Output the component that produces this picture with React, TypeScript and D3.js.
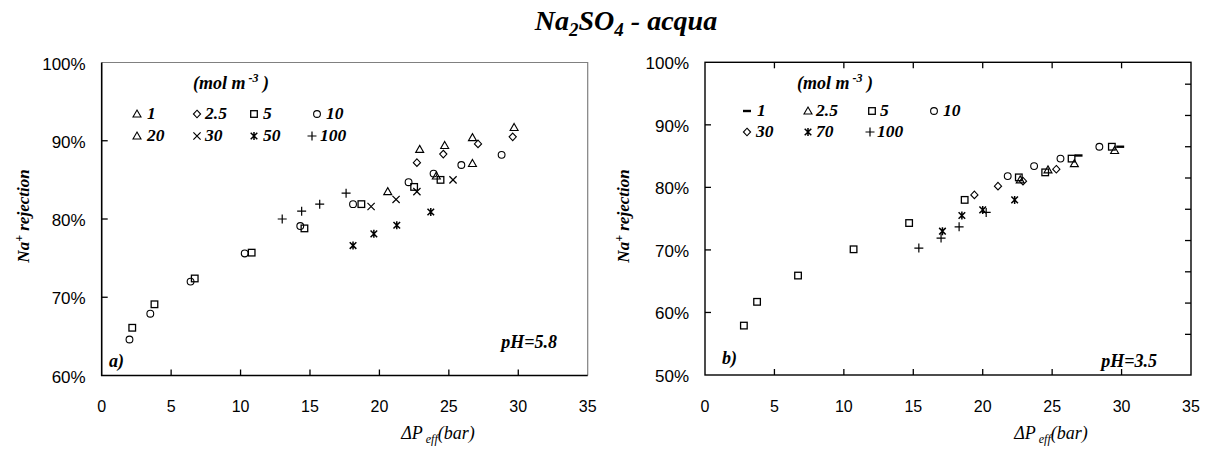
import React from "react";
import * as d3 from "d3";

// ---- data: (ΔP_eff in bar, Na+ rejection as fraction) ----
// Panel a) pH 5.8
const A_C1: [number, number][] = [[22.9, 0.889], [24.7, 0.894], [26.7, 0.904], [29.7, 0.917]];
const A_C2_5: [number, number][] = [[22.7, 0.872], [24.6, 0.883], [27.1, 0.896], [29.6, 0.905]];
const A_C5: [number, number][] = [[2.2, 0.661], [3.8, 0.691], [6.7, 0.724], [10.8, 0.757], [14.6, 0.788], [18.7, 0.819], [22.5, 0.841], [24.4, 0.85]];
const A_C10: [number, number][] = [[2.0, 0.646], [3.5, 0.679], [6.4, 0.72], [10.3, 0.756], [14.3, 0.791], [18.1, 0.819], [22.1, 0.847], [23.9, 0.858], [25.9, 0.869], [28.8, 0.882]];
const A_C20: [number, number][] = [[20.6, 0.835], [24.1, 0.855], [26.7, 0.871]];
const A_C30: [number, number][] = [[19.4, 0.816], [21.2, 0.825], [22.7, 0.835], [25.3, 0.85]];
const A_C50: [number, number][] = [[18.1, 0.766], [19.6, 0.781], [21.25, 0.792], [23.7, 0.809]];
const A_C100: [number, number][] = [[13.0, 0.8], [14.4, 0.81], [15.7, 0.819], [17.6, 0.833]];

// Panel b) pH 3.5
const B_C1: [number, number][] = [[29.9, 0.865], [26.9, 0.851]];
const B_C2_5: [number, number][] = [[22.7, 0.812], [24.7, 0.828], [26.6, 0.838], [29.5, 0.859]];
const B_C5: [number, number][] = [[2.8, 0.579], [3.75, 0.617], [6.7, 0.659], [10.7, 0.701], [14.7, 0.743], [18.7, 0.78], [22.6, 0.816], [24.5, 0.824], [26.4, 0.846], [29.3, 0.865]];
const B_C10: [number, number][] = [[21.8, 0.818], [23.7, 0.834], [25.6, 0.846], [28.4, 0.865]];
const B_C30: [number, number][] = [[19.4, 0.788], [21.1, 0.802], [22.9, 0.81], [25.3, 0.829]];
const B_C70: [number, number][] = [[17.1, 0.73], [18.5, 0.755], [20.0, 0.764], [22.3, 0.78]];
const B_C100: [number, number][] = [[15.4, 0.703], [17.0, 0.719], [18.3, 0.737], [20.25, 0.76]];

const X_TICKS = [0, 5, 10, 15, 20, 25, 30, 35];
const A_Y_TICKS = [0.6, 0.7, 0.8, 0.9, 1.0];
const B_Y_TICKS = [0.5, 0.6, 0.7, 0.8, 0.9, 1.0];
const B_RIGHT_TICKS = [0, 1, 2, 3, 4, 5, 6, 7, 8];

type Marker = "triangle" | "diamond" | "square" | "circle" | "cross" | "asterisk" | "plus" | "dash";

const A_SERIES: { label: string; marker: Marker; data: [number, number][] }[] = [
  { label: "1", marker: "triangle", data: A_C1 },
  { label: "2.5", marker: "diamond", data: A_C2_5 },
  { label: "5", marker: "square", data: A_C5 },
  { label: "10", marker: "circle", data: A_C10 },
  { label: "20", marker: "triangle", data: A_C20 },
  { label: "30", marker: "cross", data: A_C30 },
  { label: "50", marker: "asterisk", data: A_C50 },
  { label: "100", marker: "plus", data: A_C100 },
];

const B_SERIES: { label: string; marker: Marker; data: [number, number][] }[] = [
  { label: "1", marker: "dash", data: B_C1 },
  { label: "2.5", marker: "triangle", data: B_C2_5 },
  { label: "5", marker: "square", data: B_C5 },
  { label: "10", marker: "circle", data: B_C10 },
  { label: "30", marker: "diamond", data: B_C30 },
  { label: "70", marker: "asterisk", data: B_C70 },
  { label: "100", marker: "plus", data: B_C100 },
];

const SERIF = "'Liberation Serif', 'Times New Roman', serif";
const SANS = "'Liberation Sans', Arial, sans-serif";

function Symbol({ type, x, y }: { type: Marker; x: number; y: number }) {
  const common = { fill: "none", stroke: "#000", strokeWidth: 1.1 };
  switch (type) {
    case "triangle":
      return <path d={`M${x},${y - 4} L${x + 4},${y + 3} L${x - 4},${y + 3} Z`} {...common} />;
    case "diamond":
      return <path d={`M${x},${y - 3.8} L${x + 3.6},${y} L${x},${y + 3.8} L${x - 3.6},${y} Z`} {...common} />;
    case "square":
      return <rect x={x - 3.3} y={y - 3.3} width={6.6} height={6.6} {...common} strokeWidth={1.3} />;
    case "circle":
      return <circle cx={x} cy={y} r={3.4} {...common} />;
    case "cross":
      return <path d={`M${x - 3.6},${y - 3.6} L${x + 3.6},${y + 3.6} M${x - 3.6},${y + 3.6} L${x + 3.6},${y - 3.6}`} {...common} strokeWidth={1.2} />;
    case "asterisk":
      return <path d={`M${x - 3.3},${y - 3.3} L${x + 3.3},${y + 3.3} M${x - 3.3},${y + 3.3} L${x + 3.3},${y - 3.3} M${x},${y - 4} L${x},${y + 4}`} {...common} strokeWidth={1.5} />;
    case "plus":
      return <path d={`M${x - 4.5},${y} L${x + 4.5},${y} M${x},${y - 4.5} L${x},${y + 4.5}`} {...common} strokeWidth={1.2} />;
    case "dash":
      return <path d={`M${x - 4},${y} L${x + 4},${y}`} {...common} strokeWidth={2.4} />;
  }
}

interface PanelProps {
  x0: number; x1: number; y0: number; y1: number;
  yDomain: [number, number];
  yTicks: number[];
  series: { label: string; marker: Marker; data: [number, number][] }[];
  legendCols: { mx: number; tx: number }[][];
  legendRows: number[];
  unitPos: [number, number];
  tag: string; tagPos: [number, number];
  ph: string; phPos: [number, number];
  yTitleX: number;
  xTitleX: number;
  boxed: boolean;
}

function Panel(p: PanelProps) {
  const x = d3.scaleLinear().domain([0, 35]).range([p.x0, p.x1]);
  const y = d3.scaleLinear().domain(p.yDomain).range([p.y1, p.y0]);
  const right = d3.scaleLinear().domain([-1.3, 8.7]).range([p.y1, p.y0]);
  const pct = d3.format(".0%");
  const inner = X_TICKS.filter((t) => t > 0 && t < 35);
  const innerY = p.yTicks.filter((t) => t > p.yDomain[0] && t < p.yDomain[1]);
  const tl = 6;
  return (
    <g>
      {/* frame */}
      {p.boxed ? (
        <rect x={p.x0} y={p.y0} width={p.x1 - p.x0} height={p.y1 - p.y0} fill="none" stroke="#000" strokeWidth={1.4} />
      ) : (
        <g>
          <path d={`M${p.x0},${p.y0} L${p.x1},${p.y0} L${p.x1},${p.y1}`} fill="none" stroke="#808080" strokeWidth={1.2} />
          <path d={`M${p.x0},${p.y0} L${p.x0},${p.y1} L${p.x1},${p.y1}`} fill="none" stroke="#000" strokeWidth={1.6} />
        </g>
      )}
      {/* ticks */}
      {inner.map((t) => (
        <line key={"xb" + t} x1={x(t)} x2={x(t)} y1={p.y1} y2={p.y1 - tl} stroke="#000" strokeWidth={1.3} />
      ))}
      {p.boxed && inner.map((t) => (
        <line key={"xt" + t} x1={x(t)} x2={x(t)} y1={p.y0} y2={p.y0 + tl} stroke="#000" strokeWidth={1.3} />
      ))}
      {innerY.map((t) => (
        <line key={"yl" + t} x1={p.x0} x2={p.x0 + tl} y1={y(t)} y2={y(t)} stroke="#000" strokeWidth={1.3} />
      ))}
      {p.boxed && B_RIGHT_TICKS.map((t) => (
        <line key={"yr" + t} x1={p.x1} x2={p.x1 - tl} y1={right(t)} y2={right(t)} stroke="#000" strokeWidth={1.3} />
      ))}
      {/* tick labels */}
      {X_TICKS.map((t) => (
        <text key={"xl" + t} x={x(t)} y={412} textAnchor="middle" fontFamily={SANS} fontSize={16}>{t}</text>
      ))}
      {p.yTicks.map((t) => (
        <text key={"ylab" + t} x={p.x0 - 16} y={y(t) + 7} textAnchor="end" fontFamily={SANS} fontSize={17}>{pct(t)}</text>
      ))}
      {/* axis titles */}
      <text transform={`translate(${p.yTitleX},216) rotate(-90)`} textAnchor="middle" fontFamily={SERIF} fontStyle="italic" fontWeight="bold" fontSize={17}>
        Na<tspan dy={-6} fontSize={12}>+</tspan><tspan dy={6}> rejection</tspan>
      </text>
      <text x={p.xTitleX} y={439} textAnchor="middle" fontFamily={SERIF} fontStyle="italic" fontSize={18}>
        ΔP<tspan dy={4} fontSize={12}> eff</tspan><tspan dy={-4}>(bar)</tspan>
      </text>
      {/* legend */}
      <text x={p.unitPos[0]} y={p.unitPos[1]} fontFamily={SERIF} fontStyle="italic" fontWeight="bold" fontSize={18}>
        (mol m<tspan dy={-7} fontSize={12}> -3</tspan><tspan dy={7}> )</tspan>
      </text>
      {p.series.map((s, i) => {
        const row = i < 4 ? 0 : 1;
        const col = p.legendCols[row][i - row * 4];
        const ly = p.legendRows[row];
        return (
          <g key={"lg" + i}>
            <Symbol type={s.marker} x={col.mx} y={ly - 5} />
            <text x={col.tx} y={ly} fontFamily={SERIF} fontStyle="italic" fontWeight="bold" fontSize={17.5}>{s.label}</text>
          </g>
        );
      })}
      {/* data */}
      {p.series.map((s, i) => (
        <g key={"s" + i}>
          {s.data.map((d, j) => <Symbol key={j} type={s.marker} x={x(d[0])} y={y(d[1])} />)}
        </g>
      ))}
      <text x={p.tagPos[0]} y={p.tagPos[1]} fontFamily={SERIF} fontStyle="italic" fontWeight="bold" fontSize={18}>{p.tag}</text>
      <text x={p.phPos[0]} y={p.phPos[1]} textAnchor="end" fontFamily={SERIF} fontStyle="italic" fontWeight="bold" fontSize={18}>{p.ph}</text>
    </g>
  );
}

export default function App() {
  return (
    <svg width={1207} height={451} style={{ position: "absolute", left: 0, top: 0, background: "#fff" }}>
      <text x={626} y={30} textAnchor="middle" fontFamily={SERIF} fontStyle="italic" fontWeight="bold" fontSize={28}>
        Na<tspan dy={6} fontSize={19}>2</tspan><tspan dy={-6}>SO</tspan><tspan dy={6} fontSize={19}>4</tspan><tspan dy={-6}> - acqua</tspan>
      </text>
      <Panel
        x0={101.7} x1={587.7} y0={62.5} y1={375.5}
        yDomain={[0.6, 1.0]} yTicks={A_Y_TICKS} series={A_SERIES}
        legendCols={[
          [{ mx: 137, tx: 147 }, { mx: 197, tx: 205 }, { mx: 254, tx: 263 }, { mx: 317, tx: 326 }],
          [{ mx: 137, tx: 147 }, { mx: 197, tx: 205 }, { mx: 254, tx: 263 }, { mx: 312, tx: 320 }],
        ]}
        legendRows={[119, 141]} unitPos={[193, 89]}
        tag="a)" tagPos={[109, 367]} ph="pH=5.8" phPos={[557, 348]}
        yTitleX={29} xTitleX={438} boxed={false}
      />
      <Panel
        x0={705} x1={1191} y0={62.3} y1={375}
        yDomain={[0.5, 1.0]} yTicks={B_Y_TICKS} series={B_SERIES}
        legendCols={[
          [{ mx: 747, tx: 757 }, { mx: 808, tx: 816 }, { mx: 872, tx: 880 }, { mx: 934, tx: 943 }],
          [{ mx: 747, tx: 756 }, { mx: 808, tx: 816 }, { mx: 870, tx: 877 }],
        ]}
        legendRows={[116, 137]} unitPos={[797, 89]}
        tag="b)" tagPos={[722, 364]} ph="pH=3.5" phPos={[1157, 367]}
        yTitleX={629} xTitleX={1051} boxed={true}
      />
    </svg>
  );
}
